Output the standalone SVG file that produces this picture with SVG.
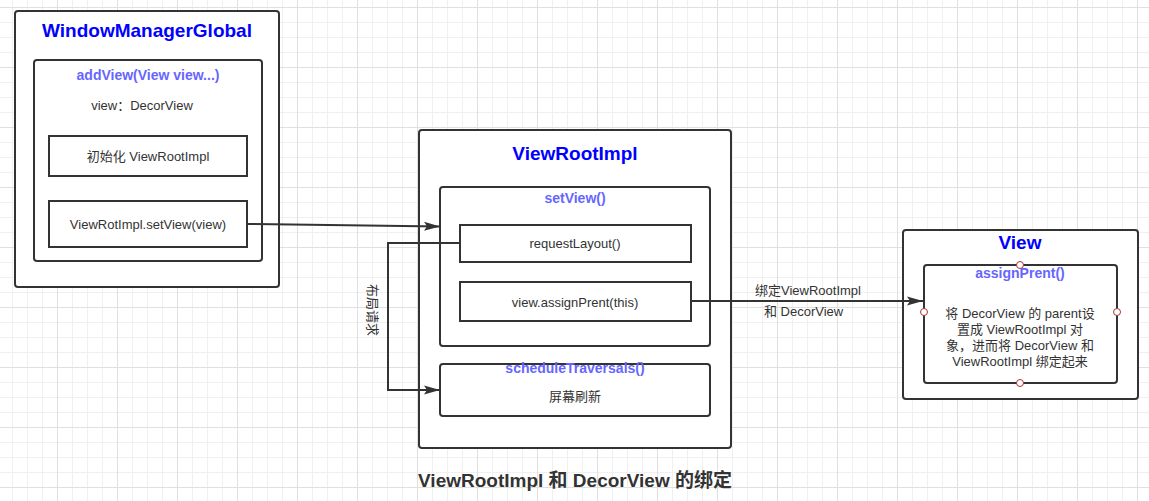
<svg xmlns="http://www.w3.org/2000/svg" width="1149" height="501" viewBox="0 0 1149 501">
<style>
.box{fill:#fff;stroke:#333;stroke-width:2}
.t{font-family:"Liberation Sans","Noto Sans CJK SC",sans-serif;font-size:13px;fill:#333;text-anchor:middle}
.title{font-family:"Liberation Sans","Noto Sans CJK SC",sans-serif;font-size:19px;font-weight:bold;fill:#0000ff;text-anchor:middle}
.sub{font-family:"Liberation Sans","Noto Sans CJK SC",sans-serif;font-size:14px;font-weight:bold;fill:#6666ff;text-anchor:middle}
.edge{fill:none;stroke:#333;stroke-width:2}
.pt{fill:#fff;stroke:#a33;stroke-width:1}
</style>
<defs>
<pattern id="grid" patternUnits="userSpaceOnUse" x="-3" y="7" width="60" height="60">
<path d="M15.5 0V60M30.5 0V60M45.5 0V60M0 15.5H60M0 30.5H60M0 45.5H60" stroke="#f0f0f0" stroke-width="1" fill="none"/>
<path d="M0.5 0V60M0 0.5H60" stroke="#e0e0e0" stroke-width="1" fill="none"/>
</pattern>
<marker id="arr" markerUnits="userSpaceOnUse" markerWidth="18" markerHeight="12" viewBox="0 0 18 12" refX="16" refY="6" orient="auto">
<path d="M0 1.5L16 6L0 10.5L3 6Z" fill="#333"/>
</marker>
</defs>
<rect width="1149" height="501" fill="#fff"/>
<rect width="1149" height="501" fill="url(#grid)"/>

<g id="windowManagerGlobal">
<rect class="box" x="15" y="11" width="264" height="276" rx="3"/>
<text class="title" x="147" y="37">WindowManagerGlobal</text>
</g>
<g id="addView">
<rect class="box" x="34" y="60" width="228" height="201" rx="3"/>
<text class="sub" x="148" y="80">addView(View view...)</text>
<text class="t" x="142" y="110">view：DecorView</text>
</g>
<g id="initViewRootImpl">
<rect class="box" x="49" y="136" width="198" height="40"/>
<text class="t" x="148" y="161">初始化 ViewRootImpl</text>
</g>
<g id="setViewCall">
<rect class="box" x="49" y="201" width="198" height="46"/>
<text class="t" x="148" y="229">ViewRotImpl.setView(view)</text>
</g>

<g id="viewRootImpl">
<rect class="box" x="419" y="130" width="312" height="318" rx="3"/>
<text class="title" x="575" y="160">ViewRootImpl</text>
</g>
<g id="setView">
<rect class="box" x="440" y="187" width="270" height="159" rx="3"/>
<text class="sub" x="575" y="203">setView()</text>
</g>
<g id="requestLayout">
<rect class="box" x="460" y="225" width="231" height="37"/>
<text class="t" x="575" y="248">requestLayout()</text>
</g>
<g id="assignPrentCall">
<rect class="box" x="460" y="282" width="231" height="39"/>
<text class="t" x="575" y="307">view.assignPrent(this)</text>
</g>
<g id="scheduleTraversals">
<rect class="box" x="440" y="364" width="270" height="52" rx="3"/>
<text class="sub" x="575" y="373">scheduleTraversals()</text>
<text class="t" x="575" y="401">屏幕刷新</text>
</g>

<g id="view">
<rect class="box" x="903" y="230" width="235" height="169" rx="3"/>
<text class="title" x="1020" y="249">View</text>
</g>
<g id="assignPrent">
<rect class="box" x="924" y="265" width="193" height="118" rx="3"/>
<text class="sub" x="1020" y="278">assignPrent()</text>
<text class="t" x="1020" y="318">将 DecorView 的 parent设</text>
<text class="t" x="1020" y="334">置成 ViewRootImpl 对</text>
<text class="t" x="1020" y="350">象，进而将 DecorView 和</text>
<text class="t" x="1020" y="366">ViewRootImpl 绑定起来</text>
<circle class="pt" cx="1020" cy="265" r="3.5"/>
<circle class="pt" cx="1020" cy="383" r="3.5"/>
<circle class="pt" cx="924" cy="312" r="3.5"/>
<circle class="pt" cx="1117" cy="312" r="3.5"/>
</g>

<g id="connectors">
<path class="edge" d="M247 224L440 226.5" marker-end="url(#arr)"/>
<path class="edge" d="M460 243H388V390H440" marker-end="url(#arr)"/>
<text class="t" transform="translate(372 310) rotate(90)" y="4.5">布局请求</text>
<path class="edge" d="M691 301H923" marker-end="url(#arr)"/>
<text class="t" x="755" y="295" style="text-anchor:start">绑定ViewRootImpl</text>
<text class="t" x="764" y="316" style="text-anchor:start">和 DecorView</text>
</g>

<g id="caption">
<text x="575" y="487" style="font-family:'Liberation Sans','Noto Sans CJK SC',sans-serif;font-size:19px;font-weight:bold;fill:#333;text-anchor:middle">ViewRootImpl 和 DecorView 的绑定</text>
</g>
</svg>
